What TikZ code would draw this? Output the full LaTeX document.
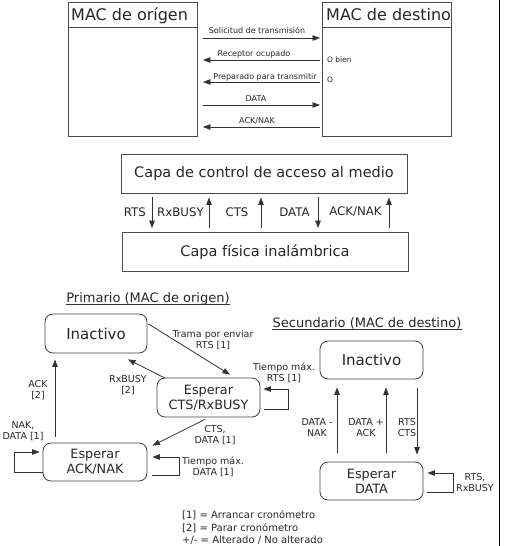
\documentclass[tikz,border=0pt]{standalone}
\usepackage{fontspec}
\setmainfont{DejaVu Sans}
\usetikzlibrary{arrows.meta,calc}
\begin{document}
\begin{tikzpicture}[x=1pt,y=-1pt,
  every node/.style={text=black!85},
  ln/.style={draw=black!80, line width=0.8pt},
  arr/.style={ln, -{Triangle[length=7.5pt,width=5.5pt]}},
  lifeline/.style={draw=black!70, line width=0.9pt, minimum width=129pt, minimum height=134pt, anchor=north west, inner sep=0pt},
  layer/.style={draw=black!70, line width=0.9pt, minimum width=286pt, minimum height=39pt, inner sep=0pt, font=\fontsize{14.5}{16}\selectfont},
  state/.style={draw=black!75, line width=0.8pt, rounded corners=8pt, minimum width=103pt, minimum height=39pt, inner sep=0pt, align=center},
  big/.style={font=\fontsize{15}{17}\selectfont},
  med/.style={font=\fontsize{12.8}{15}\selectfont},
  hdr/.style={anchor=base west, inner sep=0pt, font=\fontsize{16}{18}\selectfont},
  msg/.style={font=\fontsize{8}{9}\selectfont, inner sep=0pt},
  note/.style={font=\fontsize{7.5}{9}\selectfont, inner sep=0pt, anchor=west},
  lbl/.style={font=\fontsize{9.5}{11}\selectfont, align=center, inner sep=0pt},
  sig/.style={font=\fontsize{11.8}{13}\selectfont, inner sep=0pt},
  ttl/.style={font=\fontsize{13}{15}\selectfont, inner sep=0pt, anchor=base},
  leg/.style={font=\fontsize{10}{12}\selectfont, inner sep=0pt, anchor=base west},
]
\useasboundingbox (0,0) rectangle (512,546);

% ---------- top: sequence ----------
\node[lifeline] (src) at (68,1.5) {};
\node[lifeline] (dst) at (322,1.5) {};
\draw[draw=black!70, line width=0.9pt] (src.west |- 0,27) -- (src.east |- 0,27);
\draw[draw=black!70, line width=0.9pt] (dst.west |- 0,27) -- (dst.east |- 0,27);
\node[hdr] (srct) at (71,20.5) {MAC de orígen};
\node[hdr] (dstt) at (326,20.5) {MAC de destino};

\draw[arr, shorten <=5pt, shorten >=2pt] (src.east |- 0,38) -- (dst.west |- 0,38);
\draw[arr, shorten <=2pt, shorten >=5pt] (dst.west |- 0,60) -- (src.east |- 0,60);
\draw[arr, shorten <=2pt, shorten >=5pt] (dst.west |- 0,82) -- (src.east |- 0,82);
\draw[arr, shorten <=5pt, shorten >=2pt] (src.east |- 0,105) -- (dst.west |- 0,105);
\draw[arr, shorten <=2pt, shorten >=5pt] (dst.west |- 0,127) -- (src.east |- 0,127);
\node[msg] (m1) at (257,30) {Solicitud de transmisión};
\node[msg] (m2) at (254,54) {Receptor ocupado};
\node[msg] (m3) at (265,77) {Preparado para transmitir};
\node[msg] (m4) at (256,99) {DATA};
\node[msg] (m5) at (257,121) {ACK/NAK};
\node[note] (ob) at (327,60) {O bien};
\node[note] (oo) at (327,79.5) {O};

% ---------- middle: layers ----------
\node[layer] (mac) at (264,173.5) {Capa de control de acceso al medio};
\node[layer] (phy) at (265,252) {Capa física inalámbrica};
\draw[arr, shorten <=4pt, shorten >=4pt] (mac.south -| 152,0) -- (phy.north -| 152,0);
\draw[arr, shorten <=4pt, shorten >=4pt] (phy.north -| 209,0) -- (mac.south -| 209,0);
\draw[arr, shorten <=4pt, shorten >=4pt] (phy.north -| 261,0) -- (mac.south -| 261,0);
\draw[arr, shorten <=4pt, shorten >=4pt] (mac.south -| 318,0) -- (phy.north -| 318,0);
\draw[arr, shorten <=4pt, shorten >=4pt] (phy.north -| 389,0) -- (mac.south -| 389,0);
\node[sig, anchor=east] (s1) at (146,212) {RTS};
\node[sig, anchor=west] (s2) at (157,212) {RxBUSY};
\node[sig] (s3) at (237,212) {CTS};
\node[sig] (s4) at (294.5,212) {DATA};
\node[sig] (s5) at (355.5,212) {ACK/NAK};

% ---------- bottom left: primary ----------
\node[ttl] (tp) at (148,302) {Primario (MAC de origen)};
\draw[ln, line width=0.6pt] ($(tp.base west)+(0,2)$) -- ($(tp.base east)+(0,2)$);
\node[state, big, minimum width=102pt] (inA) at (96,333.5) {Inactivo};
\node[state, med] (cts) at (208.5,397.5) {Esperar\\CTS/RxBUSY};
\node[state, med, minimum width=104pt, minimum height=38pt] (ack) at (95,462) {Esperar\\ACK/NAK};

\draw[arr] ($(inA.east)+(1,-9.5)$) -- ($(cts.north)+(21.5,-3)$);
\draw[arr] ($(cts.north)+(-43.5,0.5)$) -- ($(inA.south)+(32,6)$);
\draw[arr] ($(cts.east)+(4,11.5)$) -- ++(24,0) |- ($(cts.east)+(3,-8.5)$);
\draw[arr] ($(cts.south)+(-3.5,2)$) -- ($(ack.north east)+(5,3)$);
\draw[arr] ($(ack.west)+(0,10)$) -- ++(-28,0) |- ($(ack.west)+(-3,-10)$);
\draw[arr] ($(ack.east)+(5,13)$) -- ++(27,0) |- ($(ack.east)+(5,-5)$);
\draw[arr, shorten <=6pt, shorten >=6pt] (ack.north -| 55,0) -- (inA.south -| 55,0);

\node[lbl] (l1) at (213,340) {Trama por enviar\\RTS [1]};
\node[lbl] (l2) at (128,385) {RxBUSY\\{[2]}};
\node[lbl] (l3) at (284,372.5) {Tiempo máx.\\RTS [1]};
\node[lbl] (l4) at (215,435.5) {CTS,\\DATA [1]};
\node[lbl] (l5) at (23,431.5) {NAK,\\DATA [1]};
\node[lbl] (l6) at (213,467) {Tiempo máx.\\DATA [1]};
\node[lbl] (l7) at (38,390) {ACK\\{[2]}};

% ---------- bottom right: secondary ----------
\node[ttl] (ts) at (367,327) {Secundario (MAC de destino)};
\draw[ln, line width=0.6pt] ($(ts.base west)+(0,2)$) -- ($(ts.base east)+(0,2)$);
\node[state, big, minimum height=38pt] (inB) at (371.5,360) {Inactivo};
\node[state, med, minimum height=38pt] (dat) at (371.5,481) {Esperar\\DATA};

\draw[arr, shorten <=9pt, shorten >=8pt] (dat.north -| 337,0) -- (inB.south -| 337,0);
\draw[arr, shorten <=9pt, shorten >=8pt] (dat.north -| 386,0) -- (inB.south -| 386,0);
\draw[arr, shorten <=9pt, shorten >=7pt] (inB.south -| 417,0) -- (dat.north -| 417,0);
\draw[arr] ($(dat.east)+(4,11)$) -- ++(26,0) |- ($(dat.east)+(4,-8)$);

\node[lbl] (r1) at (317,428) {DATA -\\NAK};
\node[lbl] (r2) at (366,428) {DATA +\\ACK};
\node[lbl] (r3) at (407,428) {RTS\\CTS};
\node[lbl] (r4) at (475,482.5) {RTS,\\RxBUSY};

% ---------- legend ----------
\node[leg] (g1) at (182,518) {[1] = Arrancar cronómetro};
\node[leg] (g2) at (182,531) {[2] = Parar cronómetro};
\node[leg] (g3) at (182,543) {+/- = Alterado / No alterado};

% right edge rule
\draw[black, line width=1pt] (499,0) -- (499,546);
\end{tikzpicture}
\end{document}
